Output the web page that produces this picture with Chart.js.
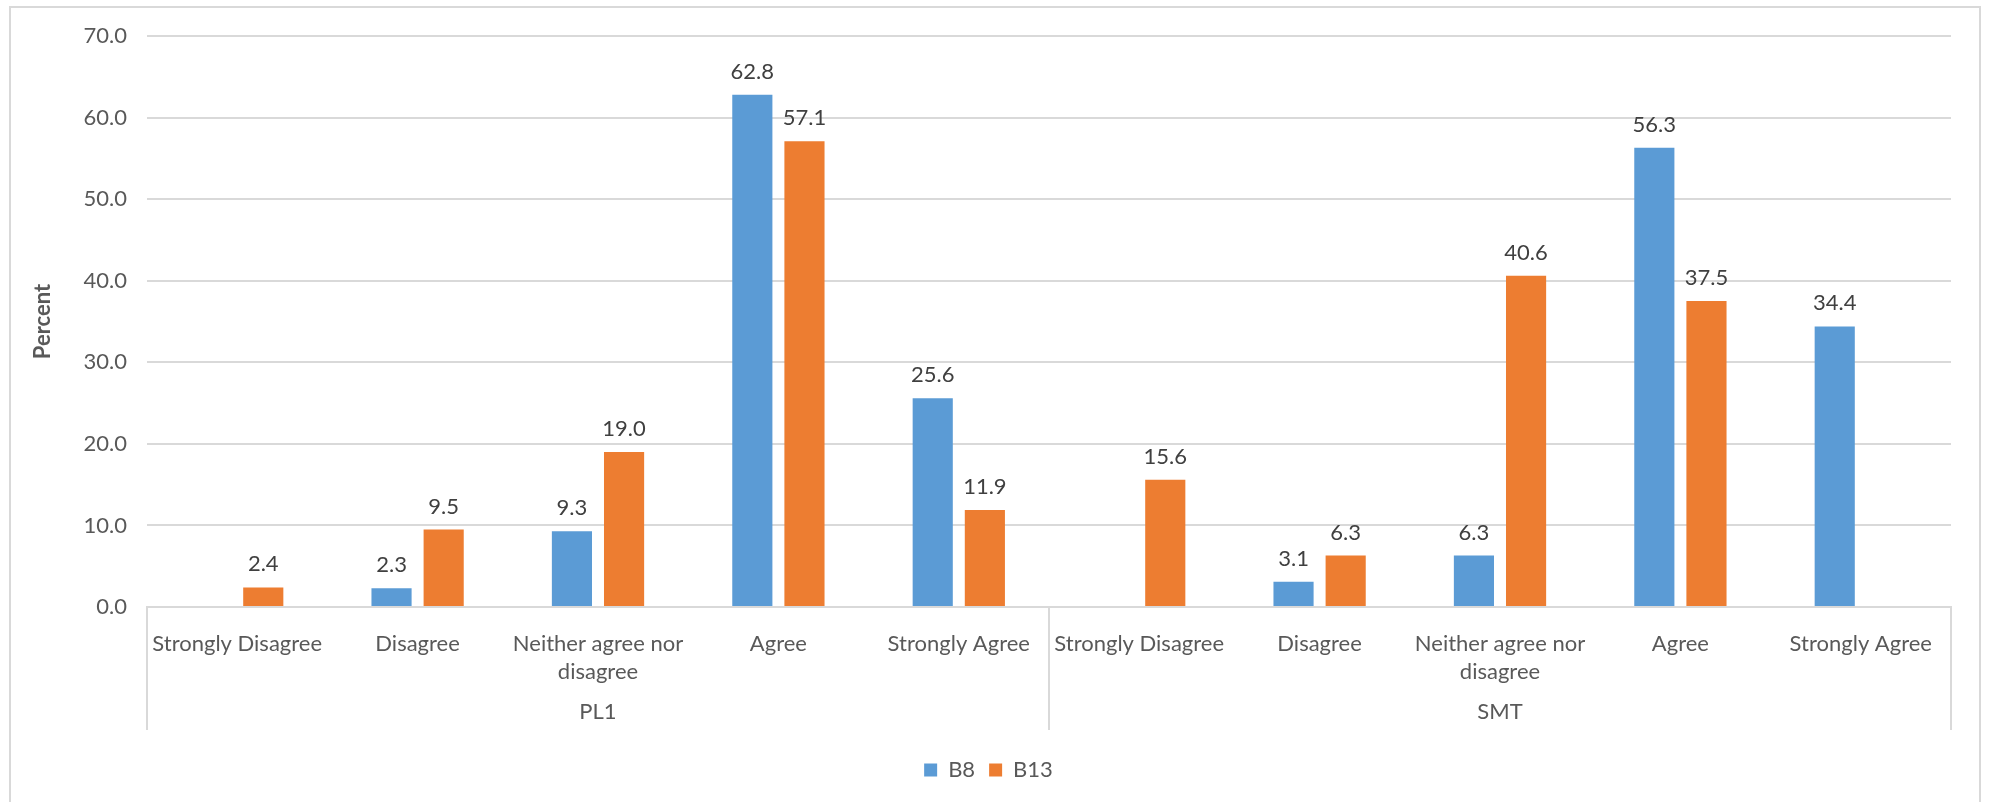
<!DOCTYPE html>
<html>
<head>
<meta charset="utf-8">
<script src="https://cdn.jsdelivr.net/npm/chart.js@4.4.0/dist/chart.umd.min.js"></script>
<style>
  html, body { margin: 0; padding: 0; background: #fff; }
  #wrap { width: 1989px; height: 802px; }
</style>
</head>
<body>
<div id="wrap"><canvas id="chart" width="1989" height="802"></canvas></div>
<script>
// categorias (duas vezes, uma por grupo) e grupos
const categorias = ['Strongly Disagree', 'Disagree', ['Neither agree nor', 'disagree'], 'Agree', 'Strongly Agree',
                    'Strongly Disagree', 'Disagree', ['Neither agree nor', 'disagree'], 'Agree', 'Strongly Agree'];
const grupos = ['PL1', 'SMT'];
// valores em percentagem, null = sem barra
const b8  = [null, 2.3, 9.3, 62.8, 25.6, null, 3.1, 6.3, 56.3, 34.4];
const b13 = [2.4, 9.5, 19.0, 57.1, 11.9, 15.6, 6.3, 40.6, 37.5, null];
const yTicks = [0, 10, 20, 30, 40, 50, 60, 70];

const cinza = '#595959';
const linha = '#d9d9d9';
const fonte = 'Lato, "Open Sans", sans-serif';

// moldura e fundo branco
const moldura = {
  id: 'moldura',
  beforeDraw(chart) {
    let ctx = chart.ctx;
    ctx.save();
    ctx.fillStyle = '#fff';
    ctx.fillRect(0, 0, chart.width, chart.height);
    ctx.strokeStyle = linha;
    ctx.lineWidth = 2;
    ctx.strokeRect(10, 7, 1970, 800);
    ctx.restore();
  }
};

// rótulos com o valor por cima de cada barra
const rotulos = {
  id: 'rotulos',
  afterDatasetsDraw(chart) {
    let ctx = chart.ctx;
    ctx.save();
    ctx.font = '22px ' + fonte;
    ctx.fillStyle = '#404040';
    ctx.textAlign = 'center';
    ctx.textBaseline = 'alphabetic';
    chart.data.datasets.forEach((ds, i) => {
      chart.getDatasetMeta(i).data.forEach((bar, j) => {
        if (ds.data[j] == null) return;
        ctx.fillText(ds.data[j].toFixed(1), bar.x, bar.y - 16);
      });
    });
    ctx.restore();
  }
};

// segundo nível do eixo x: separadores e nomes dos grupos
const grupoEixo = {
  id: 'grupoEixo',
  afterDraw(chart) {
    let ctx = chart.ctx;
    let x = chart.scales.x;
    let y0 = chart.chartArea.bottom;
    let y1 = y0 + 123;
    let porGrupo = categorias.length / grupos.length;
    let bordas = [x.left];
    for (let g = 1; g < grupos.length; g++) {
      bordas.push((x.getPixelForValue(g * porGrupo - 1) + x.getPixelForValue(g * porGrupo)) / 2);
    }
    bordas.push(x.right);
    ctx.save();
    ctx.strokeStyle = linha;
    ctx.lineWidth = 2;
    bordas.forEach(b => {
      ctx.beginPath();
      ctx.moveTo(b, y0);
      ctx.lineTo(b, y1);
      ctx.stroke();
    });
    ctx.font = '22px ' + fonte;
    ctx.fillStyle = cinza;
    ctx.textAlign = 'center';
    ctx.textBaseline = 'middle';
    grupos.forEach((g, i) => {
      ctx.fillText(g, (bordas[i] + bordas[i + 1]) / 2, y0 + 105);
    });
    ctx.restore();
  }
};

let myChart = new Chart(document.getElementById('chart'), {
  type: 'bar',
  data: {
    labels: categorias,
    datasets: [
      { label: 'B8', data: b8, backgroundColor: '#5b9bd5', categoryPercentage: 0.578, barPercentage: 0.77 },
      { label: 'B13', data: b13, backgroundColor: '#ed7d31', categoryPercentage: 0.578, barPercentage: 0.77 }
    ]
  },
  options: {
    responsive: false,
    animation: false,
    layout: { padding: { left: 26, right: 38, top: 36, bottom: 11 } },
    plugins: {
      tooltip: { enabled: false },
      legend: {
        position: 'bottom',
        labels: {
          boxWidth: 13, boxHeight: 13, padding: 14,
          color: cinza,
          font: { family: fonte, size: 22 }
        }
      }
    },
    scales: {
      x: {
        grid: { display: false },
        border: { color: linha, width: 2 },
        ticks: {
          color: cinza, maxRotation: 0, autoSkip: false, padding: 15,
          font: { family: fonte, size: 22, lineHeight: 1.27 }
        },
        afterFit(scale) { scale.height = 138; }
      },
      y: {
        min: 0, max: 70,
        afterBuildTicks(scale) { scale.ticks = yTicks.map(v => ({ value: v })); },
        grid: { color: linha, lineWidth: 2, drawTicks: false },
        border: { display: false },
        ticks: {
          color: cinza, padding: 20,
          font: { family: fonte, size: 22 },
          callback: v => Number(v).toFixed(1)
        },
        title: {
          display: true, text: 'Percent', color: cinza,
          font: { family: fonte, size: 22, weight: 'bold' }
        },
        afterFit(scale) { scale.width = 121; }
      }
    }
  },
  plugins: [moldura, rotulos, grupoEixo]
});
</script>
</body>
</html>
